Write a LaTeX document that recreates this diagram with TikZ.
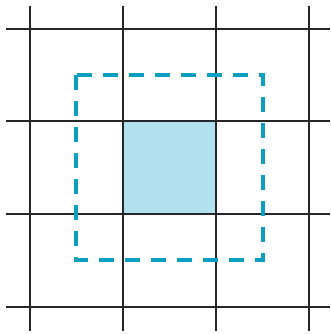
\documentclass[tikz,border=0pt]{standalone}
\usepackage{tikz}

\definecolor{cellfill}{HTML}{B1E0EE}
\definecolor{haloline}{HTML}{0A9FC0}

\begin{document}
\begin{tikzpicture}[x=1pt,y=-1pt,
    gridline/.style={draw=black!85,line width=1.2pt},
    cell/.style={fill=cellfill},
    halo/.style={draw=haloline,line width=3.4pt,dash pattern=on 15pt off 11pt}
  ]
    \useasboundingbox (0,0) rectangle (330,334);
    % centre cell
    \fill[cell] (123,121) rectangle (216,214);
    % grid
    \foreach \gx in {30,123,216,309}
      \draw[gridline] (\gx,6) -- (\gx,331);
    \foreach \gy in {29,121,214,307}
      \draw[gridline] (6,\gy) -- (330,\gy);
    % neighbourhood
    \draw[halo] (76,75) rectangle (263,260);
  \end{tikzpicture}
\end{document}
